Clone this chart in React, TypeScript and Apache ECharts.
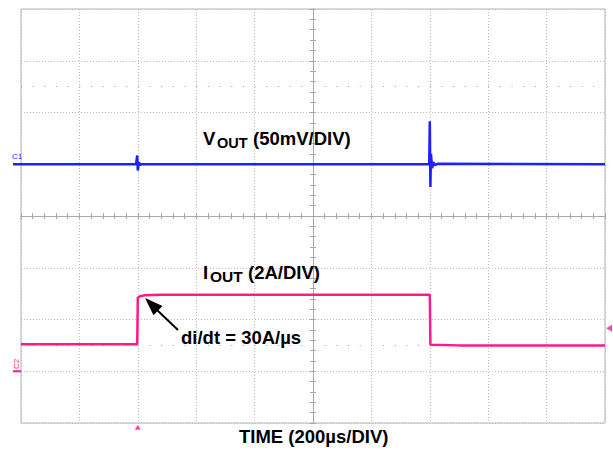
import React, { useEffect, useRef } from "react";
import * as echarts from "echarts";

// Time axis in divisions (-5..5, 200µs/div), amplitude in divisions (-4..4)
const voutTrace: number[][] = [
  [-5.0, 1.0], [-3.03, 1.0], [-3.01, 1.17], [-3.0, 0.88], [-2.98, 1.04], [-2.96, 0.99], [-2.93, 1.0],
  [1.99, 1.0], [2.0, 1.83], [2.01, 0.56], [2.02, 1.2], [2.04, 0.92], [2.06, 1.04], [2.09, 0.98],
  [2.13, 1.01], [5.0, 1.0],
];
const ioutTrace: number[][] = [
  [-5.0, -2.48], [-3.01, -2.48], [-3.0, -1.58], [-2.96, -1.55], [-2.88, -1.53], [-2.6, -1.52],
  [2.0, -1.52], [2.01, -2.49], [2.5, -2.5], [5.0, -2.5],
];
const ch1Level = 1.0;
const ch2Ground = -3.0;
const triggerTime: number[][] = [[-3.0, -4.08]];
const triggerLevel: number[][] = [[5.07, -2.17]];
const dotRows = [2.5, -2.5];

const BLUE = "#1f1fff";
const PINK = "#ff1a8c";
const GRID_C = "#bcbcbc";
const AXIS_C = "#a8a8a8";
const FONT = '"Liberation Sans", Arial, Helvetica, sans-serif';

const G = { left: 21, top: 9, width: 584, height: 414 };
const yPx = (v: number) => G.top + G.height * (4 - v) / 8;

function xAxisCfg(position: "bottom" | "top", split: boolean) {
  return {
    type: "value",
    min: -5,
    max: 5,
    interval: 1,
    position,
    axisLine: { show: true, onZero: true, lineStyle: { color: AXIS_C, width: 1 } },
    axisTick: { show: true, length: 3, lineStyle: { color: AXIS_C } },
    minorTick: { show: true, splitNumber: 5, length: 3, lineStyle: { color: AXIS_C } },
    axisLabel: { show: false },
    splitLine: { show: split, lineStyle: { type: [1, 2], color: GRID_C, width: 1 } },
  };
}
function yAxisCfg(position: "left" | "right", split: boolean) {
  return {
    type: "value",
    min: -4,
    max: 4,
    interval: 1,
    position,
    axisLine: { show: true, onZero: true, lineStyle: { color: AXIS_C, width: 1 } },
    axisTick: { show: true, length: 3, lineStyle: { color: AXIS_C } },
    minorTick: { show: true, splitNumber: 5, length: 3, lineStyle: { color: AXIS_C } },
    axisLabel: { show: false },
    splitLine: { show: split, lineStyle: { type: [1, 2], color: GRID_C, width: 1 } },
  };
}

function txt(text: string, x: number, baseline: number, size: number, opts: any = {}) {
  return {
    type: "text",
    x,
    y: baseline - size * 0.35,
    silent: true,
    z: 100,
    style: {
      text,
      fontSize: size,
      fontWeight: "bold",
      fontFamily: FONT,
      fill: "#000",
      verticalAlign: "middle",
      align: "left",
      ...opts,
    },
  };
}

export default function App() {
  const ref = useRef<HTMLDivElement>(null);
  useEffect(() => {
    if (!ref.current) return;
    const chart = echarts.init(ref.current, null, { renderer: "svg" });
    const option: any = {
      animation: false,
      backgroundColor: "#fff",
      grid: {
        left: G.left,
        top: G.top,
        width: G.width,
        height: G.height,
        show: true,
        borderColor: "#b4b4b4",
        borderWidth: 1,
        backgroundColor: "transparent",
      },
      xAxis: [xAxisCfg("bottom", true), xAxisCfg("top", false)],
      yAxis: [yAxisCfg("left", true), yAxisCfg("right", false)],
      series: [
        {
          type: "line",
          name: "graticule",
          data: [],
          silent: true,
          markLine: {
            silent: true,
            symbol: "none",
            label: { show: false },
            lineStyle: { type: [1, 10.68], color: "#9c9c9c", width: 1 },
            data: dotRows.map((v) => ({ yAxis: v })),
          },
        },
        {
          type: "line",
          name: "VOUT",
          data: voutTrace,
          showSymbol: false,
          symbol: "none",
          lineStyle: { color: BLUE, width: 2.5 },
          z: 5,
        },
        {
          type: "line",
          name: "IOUT",
          data: ioutTrace,
          showSymbol: false,
          symbol: "none",
          lineStyle: { color: PINK, width: 2.5 },
          z: 5,
        },
        {
          type: "scatter",
          data: triggerTime,
          clip: false,
          symbol: "triangle",
          symbolSize: [6, 5],
          itemStyle: { color: PINK },
          z: 6,
        },
        {
          type: "scatter",
          data: triggerLevel,
          clip: false,
          symbol: "triangle",
          symbolSize: [7, 6],
          symbolRotate: 90,
          itemStyle: { color: PINK },
          z: 6,
        },
      ],
      graphic: [
        txt("V", 203, 145, 18.5),
        txt("OUT", 217, 148.5, 14.5),
        txt("(50mV/DIV)", 253, 145, 18.5),
        txt("I", 203, 278.5, 18.5),
        txt("OUT", 210, 281.5, 15.5),
        txt("(2A/DIV)", 248, 278.5, 18.5),
        txt("di/dt = 30A/µs", 181, 343.5, 18.5),
        txt("TIME (200µs/DIV)", 239, 443, 18.5),
        {
          type: "line",
          silent: true,
          z: 100,
          shape: { x1: 13, y1: yPx(ch1Level), x2: G.left, y2: yPx(ch1Level) },
          style: { stroke: BLUE, lineWidth: 2.5 },
        },
        {
          type: "line",
          silent: true,
          z: 100,
          shape: { x1: 13, y1: yPx(ch2Ground), x2: G.left, y2: yPx(ch2Ground) },
          style: { stroke: PINK, lineWidth: 2 },
        },
        {
          type: "text",
          x: 12,
          y: 156,
          silent: true,
          style: { text: "C1", fontSize: 8, fontFamily: FONT, fill: BLUE, verticalAlign: "middle", align: "left" },
        },
        {
          type: "text",
          x: 16,
          y: 364,
          rotation: Math.PI / 2,
          silent: true,
          style: { text: "C2", fontSize: 8, fontFamily: FONT, fill: PINK, verticalAlign: "middle", align: "center" },
        },
        {
          type: "line",
          silent: true,
          z: 100,
          shape: { x1: 178, y1: 330, x2: 157, y2: 310 },
          style: { stroke: "#000", lineWidth: 2 },
        },
        {
          type: "polygon",
          silent: true,
          z: 100,
          shape: { points: [[145, 298], [162.5, 306], [153.5, 315.2]] },
          style: { fill: "#000" },
        },
      ],
    };
    chart.setOption(option);
    return () => chart.dispose();
  }, []);
  return (
    <div
      ref={ref}
      style={{ position: "fixed", left: 0, top: 0, width: 613, height: 452, background: "#fff" }}
    />
  );
}
